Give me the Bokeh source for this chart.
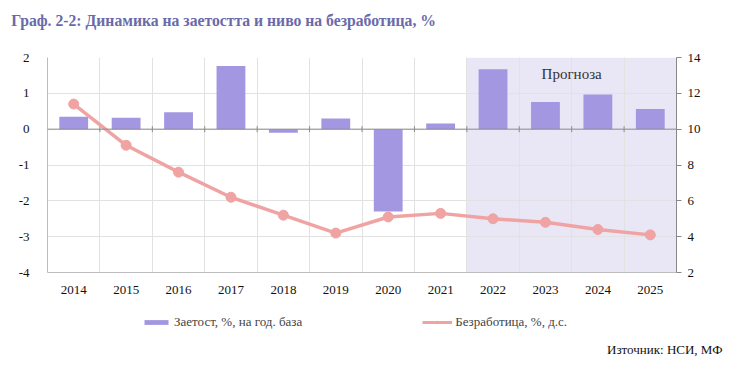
from bokeh.plotting import figure
from bokeh.layouts import column
from bokeh.models import (Range1d, LinearAxis, FixedTicker, BoxAnnotation, Span, Label,
                          Legend, LegendItem, ColumnDataSource)
from bokeh.embed import file_html
from bokeh.resources import INLINE

years = [2014, 2015, 2016, 2017, 2018, 2019, 2020, 2021, 2022, 2023, 2024, 2025]
employment = [0.35, 0.32, 0.47, 1.76, -0.1, 0.3, -2.3, 0.16, 1.67, 0.76, 0.97, 0.56]
unemployment = [11.4, 9.1, 7.6, 6.2, 5.2, 4.2, 5.1, 5.3, 5.0, 4.8, 4.4, 4.1]
left_ticks = [-4, -3, -2, -1, 0, 1, 2]
right_ticks = [2, 4, 6, 8, 10, 12, 14]
forecast_start = 2022
title_text = "Граф. 2-2: Динамика на заетостта и ниво на безработица, %"
bar_label = "Заетост, %, на год. база"
line_label = "Безработица, %, д.с."
source_text = "Източник: НСИ, МФ"
forecast_text = "Прогноза"

SERIF = "Liberation Serif"
W = 732
BAR_COLOR = "#a397e2"
LINE_COLOR = "#f0a3a3"


def blank(h):
    f = figure(width=W, height=h, output_backend="svg", toolbar_location=None,
               x_axis_type=None, y_axis_type=None, min_border=0,
               x_range=Range1d(0, 1), y_range=Range1d(0, 1))
    f.frame_align = False
    f.outline_line_color = None
    f.grid.visible = False
    return f


# ---- title strip
t = blank(40)
t.add_layout(Label(x=10.7, y=20, x_units="screen", y_units="screen", text=title_text,
                   text_font=SERIF, text_font_style="bold", text_font_size="15.7px",
                   text_color="#6a6aaa", text_baseline="middle"))

# ---- main chart
p = figure(width=W, height=258, output_backend="svg", toolbar_location=None,
           x_range=Range1d(years[0] - 0.5, years[-1] + 0.5), y_range=Range1d(-4, 2),
           min_border_left=47, min_border_right=56, min_border_top=17, min_border_bottom=26)
p.frame_align = False
p.outline_line_color = None
p.background_fill_color = "white"
p.extra_y_ranges = {"u": Range1d(2, 14)}

p.add_layout(BoxAnnotation(left=forecast_start - 0.5, right=years[-1] + 0.5,
                           fill_color="#e9e7f6", fill_alpha=1.0, line_color=None, level="image"))

p.xaxis.ticker = FixedTicker(ticks=years)
p.xaxis.major_label_overrides = {y: str(y) for y in years}
p.xaxis.major_tick_line_color = None
p.xaxis.minor_tick_line_color = None
p.xaxis.axis_line_color = "#bdbdbd"
p.xaxis.major_label_standoff = 7
p.xaxis.major_label_text_font = SERIF
p.xaxis.major_label_text_font_size = "13px"
p.xaxis.major_label_text_color = "#111111"

p.yaxis.ticker = FixedTicker(ticks=left_ticks)
p.yaxis.major_label_overrides = {v: str(v) for v in left_ticks}
p.yaxis.major_tick_line_color = None
p.yaxis.minor_tick_line_color = None
p.yaxis.axis_line_color = "#bdbdbd"
p.yaxis.major_label_standoff = 12
p.yaxis.major_label_text_font = SERIF
p.yaxis.major_label_text_font_size = "13px"
p.yaxis.major_label_text_color = "#111111"

ry = LinearAxis(y_range_name="u", ticker=FixedTicker(ticks=right_ticks))
ry.major_label_overrides = {v: str(v) for v in right_ticks}
ry.major_tick_out = 5
ry.major_tick_in = 0
ry.major_tick_line_color = "#888888"
ry.minor_tick_line_color = None
ry.axis_line_color = "#888888"
ry.major_label_standoff = 6
ry.major_label_text_font = SERIF
ry.major_label_text_font_size = "13px"
ry.major_label_text_color = "#111111"
p.add_layout(ry, "right")

p.xgrid.ticker = FixedTicker(ticks=[y + 0.5 for y in years[:-1]])
p.xgrid.grid_line_color = "#e2e2e2"
p.ygrid.grid_line_color = "#e2e2e2"

src = ColumnDataSource(dict(x=years, emp=employment, un=unemployment))
p.vbar(x="x", top="emp", bottom=0, width=0.55, source=src,
       fill_color=BAR_COLOR, line_color=None)

p.add_layout(Span(location=0, dimension="width", line_color="#8c8c8c", line_width=1))
p.scatter(x=[y + 0.5 for y in years[:-1]], y=[0] * (len(years) - 1), marker="dash",
          angle=1.5708, size=6, line_color="#8c8c8c", line_width=1)

p.line(x="x", y="un", source=src, y_range_name="u", line_color=LINE_COLOR, line_width=3.5)
p.scatter(x="x", y="un", source=src, y_range_name="u", size=10,
          fill_color=LINE_COLOR, line_color=LINE_COLOR)

p.add_layout(Label(x=forecast_start + 1.5, y=1.55, text=forecast_text, text_align="center",
                   text_baseline="middle", text_font=SERIF, text_font_size="15px",
                   text_color="#333333"))

# ---- legend and source strip (legend proxies use the same data, outside this strip's view)
b = blank(63)
lb = b.vbar(x="x", top="emp", width=0.5, source=src, fill_color=BAR_COLOR, line_color=None)
ll = b.line(x="x", y="un", source=src, line_color=LINE_COLOR, line_width=3)
lm = b.scatter(x="x", y="un", source=src, size=7, fill_color=LINE_COLOR, line_color=LINE_COLOR)
legend = Legend(items=[LegendItem(label=bar_label, renderers=[lb]),
                       LegendItem(label=line_label, renderers=[ll, lm])],
                orientation="horizontal", location=(141, 29), spacing=120,
                glyph_width=30, glyph_height=6, label_height=20, label_text_font=SERIF,
                label_text_font_size="13px", label_standoff=3, border_line_color=None,
                background_fill_alpha=0, padding=0, margin=0)
b.add_layout(legend)
b.add_layout(Label(x=722, y=12, x_units="screen", y_units="screen", text=source_text,
                   text_font=SERIF, text_font_size="13px", text_align="right",
                   text_color="#111111", text_baseline="middle"))

layout = column(t, p, b, spacing=0)
open("out.html", "w").write(file_html(layout, INLINE))
